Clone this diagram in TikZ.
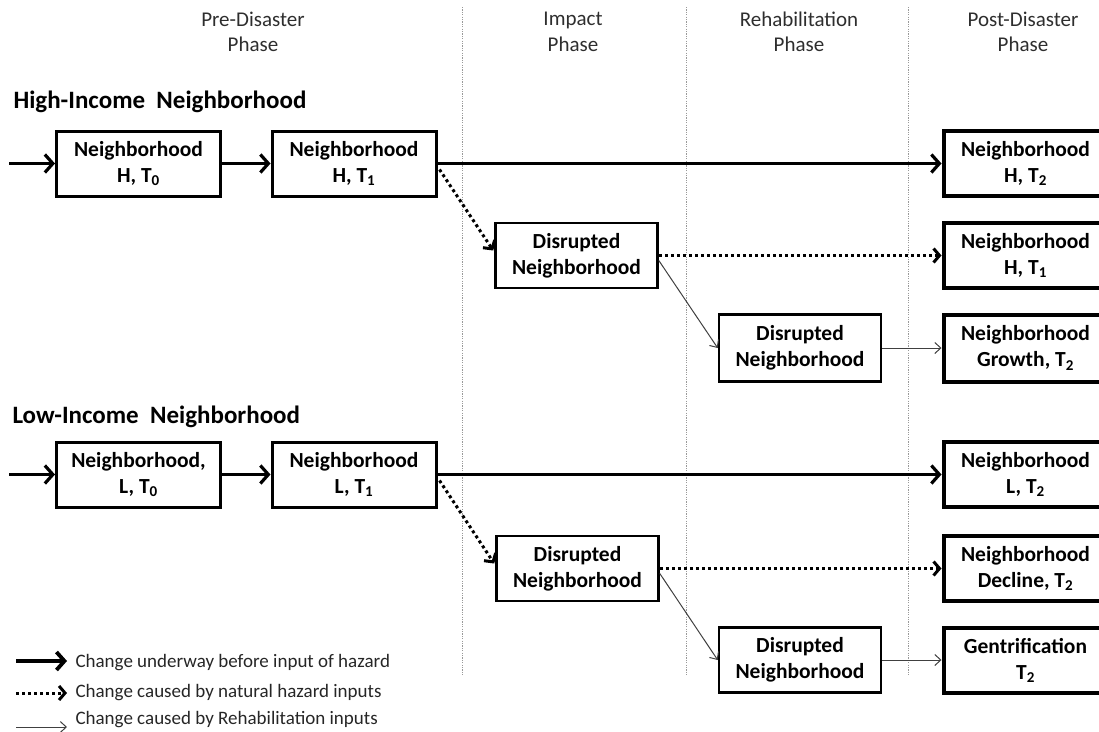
\documentclass[tikz,border=0pt]{standalone}
\usepackage{fontspec}
\setmainfont{Carlito}
\usetikzlibrary{arrows.meta,calc}
\begin{document}
\begin{tikzpicture}[x=1pt,y=-1pt,
  box/.style={draw=black, line width=3pt, minimum width=164pt, minimum height=65pt,
    align=center, inner sep=0pt, font=\fontsize{21.5}{26}\selectfont\bfseries},
  postbox/.style={box, line width=4pt},
  disbox/.style={box, line width=2.6pt, minimum width=162pt},
  phase/.style={align=center, text=black!82, font=\fontsize{21}{25.5}\selectfont},
  title/.style={anchor=base west, font=\fontsize{25}{30}\selectfont\bfseries},
  legtext/.style={anchor=west, text=black!85, font=\fontsize{19}{22}\selectfont},
  sep/.style={draw=black!40, line width=0.9pt, dash pattern=on 1.2pt off 1.2pt},
  thickarr/.style={line width=3.2pt, -{Straight Barb[length=8pt,width=18pt]}},
  dotarr/.style={line width=3pt, dash pattern=on 3pt off 3pt, -{Straight Barb[length=6pt,width=14pt]}},
  thinarr/.style={draw=black!75, line width=1pt, -{Straight Barb[length=6pt,width=11pt]}}
]
\useasboundingbox (0,0) rectangle (1099,731);
\clip (0,0) rectangle (1099,731);

% phase separators
\coordinate (s1t) at (462,7); \coordinate (s1b) at (462,675);
\coordinate (s2t) at (686,7); \coordinate (s2b) at (686,675);
\coordinate (s3t) at (908,7); \coordinate (s3b) at (908,675);
\draw[sep] (s1t) -- (s1b);
\draw[sep] (s2t) -- (s2b);
\draw[sep] (s3t) -- (s3b);

% phase labels
\node[phase] (p1) at (253,32) {Pre-Disaster\\Phase};
\node[phase] (p2) at (573,32) {Impact\\Phase};
\node[phase] (p3) at (799,32) {Rehabilitation\\Phase};
\node[phase] (p4) at (1023,32) {Post-Disaster\\Phase};

% titles
\node[title] (th) at (10,108) {High-Income\ \ Neighborhood};
\node[title] (tl) at (9,423) {Low-Income\ \ Neighborhood};

% high-income boxes
\node[box] (hT0) at (138.5,163.5) {Neighborhood\\H, T\textsubscript{0}};
\node[box] (hT1) at (354,163.5) {Neighborhood\\H, T\textsubscript{1}};
\node[postbox] (hT2) at (1025.5,163.5) {Neighborhood\\H, T\textsubscript{2}};
\node[disbox] (hD1) at (576.5,255.5) {Disrupted\\Neighborhood};
\node[postbox] (hP1) at (1025.5,255.5) {Neighborhood\\H, T\textsubscript{1}};
\node[disbox, minimum height=67pt] (hD2) at (800,348) {Disrupted\\Neighborhood};
\node[postbox, minimum height=67pt] (hG) at (1025.5,348) {Neighborhood\\Growth, T\textsubscript{2}};

% low-income boxes
\node[box] (lT0) at (138.5,474.5) {Neighborhood,\\L, T\textsubscript{0}};
\node[box] (lT1) at (354,474.5) {Neighborhood\\L, T\textsubscript{1}};
\node[postbox] (lT2) at (1025.5,474.5) {Neighborhood\\L, T\textsubscript{2}};
\node[disbox] (lD1) at (577.5,568.5) {Disrupted\\Neighborhood};
\node[postbox] (lP1) at (1025.5,568.5) {Neighborhood\\Decline, T\textsubscript{2}};
\node[disbox] (lD2) at (800,660) {Disrupted\\Neighborhood};
\node[postbox] (lG) at (1025.5,660) {Gentrification\\T\textsubscript{2}};

% high-income connectors
\coordinate (hin) at (9,163.5);
\draw[thickarr] (hin) -- (hT0.west);
\draw[thickarr] (hT0.east) -- (hT1.west);
\draw[thickarr] (hT1.east) -- (hT2.west);
\draw[dotarr] ($(hT1.east)+(2,6)$) -- ($(hD1.west)+(-1,-5)$);
\draw[dotarr] (hD1.east) -- (hP1.west);
\draw[thinarr] ($(hD1.east)+(0,5)$) -- (hD2.west);
\draw[thinarr] (hD2.east) -- (hG.west);

% low-income connectors
\coordinate (lin) at (9,474.5);
\draw[thickarr] (lin) -- (lT0.west);
\draw[thickarr] (lT0.east) -- (lT1.west);
\draw[thickarr] (lT1.east) -- (lT2.west);
\draw[dotarr] ($(lT1.east)+(2,6)$) -- ($(lD1.west)+(-1,-5)$);
\draw[dotarr] (lD1.east) -- (lP1.west);
\draw[thinarr] ($(lD1.east)+(0,5)$) -- (lD2.west);
\draw[thinarr] (lD2.east) -- (lG.west);

% legend
\coordinate (a1s) at (16,661); \coordinate (a1e) at (67,661);
\coordinate (a2s) at (16,693); \coordinate (a2e) at (67,693);
\coordinate (a3s) at (16,727); \coordinate (a3e) at (67,727);
\draw[thickarr, line width=3.8pt] (a1s) -- (a1e);
\draw[dotarr] (a2s) -- (a2e);
\draw[thinarr] (a3s) -- (a3e);
\node[legtext] (l1) at (72,663) {Change underway before input of hazard};
\node[legtext] (l2) at (72,693) {Change caused by natural hazard inputs};
\node[legtext] (l3) at (72,720) {Change caused by Rehabilitation inputs};
\end{tikzpicture}
\end{document}
